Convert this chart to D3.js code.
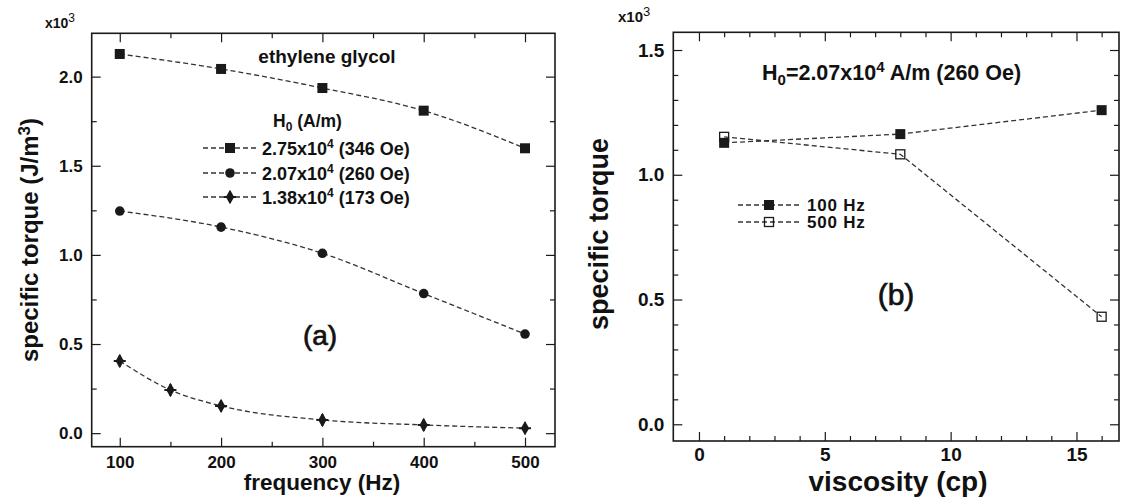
<!DOCTYPE html>
<html><head><meta charset="utf-8">
<script src="https://cdn.jsdelivr.net/npm/d3@7"></script>
<style>
body{margin:0;background:#fff}
svg{display:block}
text{font-family:"Liberation Sans",Arial,Helvetica,sans-serif;fill:#111}
</style>
</head><body>
<svg id="chart" width="1121" height="503"></svg>
<script>
// ---------- panel (a): specific torque vs. frequency, ethylene glycol ----------
const freqHigh = [100, 200, 300, 400, 500];
const torqueHigh = [2.127, 2.043, 1.936, 1.809, 1.598];      // H0 = 2.75x10^4 A/m
const freqMid = [100, 200, 300, 400, 500];
const torqueMid = [1.246, 1.156, 1.009, 0.783, 0.556];       // H0 = 2.07x10^4 A/m
const freqLow = [100, 150, 200, 300, 400, 500];
const torqueLow = [0.405, 0.242, 0.153, 0.074, 0.046, 0.028]; // H0 = 1.38x10^4 A/m
const fieldMantissa = ["2.75x10", "2.07x10", "1.38x10"];
const fieldOersted = [" (346 Oe)", " (260 Oe)", " (173 Oe)"];
const freqTicks = [100, 200, 300, 400, 500];
const torqueTicksA = [0.0, 0.5, 1.0, 1.5, 2.0];

// ---------- panel (b): specific torque vs. viscosity ----------
const viscosity = [1, 8, 16];
const torque100Hz = [1.128, 1.163, 1.259];
const torque500Hz = [1.152, 1.082, 0.431];
const freqLabels = ["100 Hz", "500 Hz"];
const viscTicks = [0, 5, 10, 15];
const torqueTicksB = [0.0, 0.5, 1.0, 1.5];

const svg = d3.select("#chart");
const ink = "#1a1a1a";
const fmt = d3.format(".1f");

// panel geometry
const A = {left: 91.7, right: 555, top: 33.3, bottom: 446.7};
const B = {left: 673.3, right: 1119, top: 32.3, bottom: 441};

const xA = d3.scaleLinear().domain([72.3, 529.6]).range([A.left, A.right]);
const yA = d3.scaleLinear().domain([-0.076, 2.243]).range([A.bottom, A.top]);
const xB = d3.scaleLinear().domain([-1.02, 16.69]).range([B.left, B.right]);
const yB = d3.scaleLinear().domain([-0.067, 1.571]).range([B.bottom, B.top]);

function frame(P, x, y, o) {
  const g = svg.append("g");
  const strip = s => s.select(".domain").remove();
  // minor ticks on all four sides
  g.append("g").attr("transform", `translate(0,${P.bottom})`)
    .call(d3.axisBottom(x).tickValues(o.xMinor).tickSize(-5).tickFormat("")).call(strip);
  g.append("g").attr("transform", `translate(0,${P.top})`)
    .call(d3.axisTop(x).tickValues(o.xMinor).tickSize(-5).tickFormat("")).call(strip);
  g.append("g").attr("transform", `translate(${P.left},0)`)
    .call(d3.axisLeft(y).tickValues(o.yMinor).tickSize(-5).tickFormat("")).call(strip);
  g.append("g").attr("transform", `translate(${P.right},0)`)
    .call(d3.axisRight(y).tickValues(o.yMinor).tickSize(-5).tickFormat("")).call(strip);
  // major ticks
  const xb = g.append("g").attr("transform", `translate(0,${P.bottom})`)
    .call(d3.axisBottom(x).tickValues(o.xMajor).tickSize(-9).tickPadding(o.xPad).tickFormat(o.xFmt)).call(strip);
  g.append("g").attr("transform", `translate(0,${P.top})`)
    .call(d3.axisTop(x).tickValues(o.xMajor).tickSize(-9).tickFormat("")).call(strip);
  const yl = g.append("g").attr("transform", `translate(${P.left},0)`)
    .call(d3.axisLeft(y).tickValues(o.yMajor).tickSize(-9).tickPadding(o.yPad).tickFormat(fmt)).call(strip);
  g.append("g").attr("transform", `translate(${P.right},0)`)
    .call(d3.axisRight(y).tickValues(o.yMajor).tickSize(-9).tickFormat("")).call(strip);
  g.selectAll(".tick line").attr("stroke", ink).attr("stroke-width", 1.2);
  [xb, yl].forEach(a => a.selectAll("text")
    .style("font-family", '"Liberation Sans",Arial,sans-serif')
    .style("font-weight", "bold").style("font-size", o.tickFont + "px").attr("fill", ink));
  g.append("rect").attr("x", P.left).attr("y", P.top)
    .attr("width", P.right - P.left).attr("height", P.bottom - P.top)
    .attr("fill", "none").attr("stroke", ink).attr("stroke-width", 1.6);
}

frame(A, xA, yA, {
  xMajor: freqTicks, xMinor: d3.range(150, 500, 100), xFmt: d3.format("d"),
  yMajor: torqueTicksA, yMinor: d3.range(0.25, 2.25, 0.5),
  xPad: 9, yPad: 9, tickFont: 17
});
frame(B, xB, yB, {
  xMajor: viscTicks, xMinor: d3.range(0, 17).filter(v => v % 5 !== 0), xFmt: d3.format("d"),
  yMajor: torqueTicksB, yMinor: d3.range(0, 1.55, 0.1).filter(v => Math.round(v * 10) % 5 !== 0),
  xPad: 7, yPad: 9, tickFont: 19
});

// dashed connecting lines
function curve(x, y, xs, ys, shape) {
  const line = d3.line().x((d, i) => x(xs[i])).y((d, i) => y(ys[i])).curve(shape);
  svg.append("path").attr("d", line(xs)).attr("fill", "none")
    .attr("stroke", "#333").attr("stroke-width", 1.3).attr("stroke-dasharray", "5,3");
}

// marker painters
const markers = {
  square: (g, cx, cy) => g.append("rect").attr("x", cx - 5).attr("y", cy - 5)
    .attr("width", 10).attr("height", 10).attr("fill", ink),
  circle: (g, cx, cy) => g.append("circle").attr("cx", cx).attr("cy", cy).attr("r", 4.8).attr("fill", ink),
  diamond: (g, cx, cy) => {
    g.append("path").attr("transform", `translate(${cx},${cy})`)
      .attr("d", d3.symbol(d3.symbolDiamond, 60)()).attr("fill", ink);
    g.append("path").attr("d", `M${cx - 6},${cy}H${cx + 6}M${cx},${cy - 6}V${cy + 6}`)
      .attr("stroke", ink).attr("stroke-width", 2);
  },
  open: (g, cx, cy) => g.append("rect").attr("x", cx - 4.5).attr("y", cy - 4.5)
    .attr("width", 9).attr("height", 9).attr("fill", "none").attr("stroke", ink).attr("stroke-width", 1.3)
};

function points(x, y, xs, ys, kind) {
  const g = svg.append("g");
  xs.forEach((v, i) => markers[kind](g, x(v), y(ys[i])));
}

curve(xA, yA, freqHigh, torqueHigh, d3.curveMonotoneX);
curve(xA, yA, freqMid, torqueMid, d3.curveMonotoneX);
curve(xA, yA, freqLow, torqueLow, d3.curveMonotoneX);
points(xA, yA, freqHigh, torqueHigh, "square");
points(xA, yA, freqMid, torqueMid, "circle");
points(xA, yA, freqLow, torqueLow, "diamond");

curve(xB, yB, viscosity, torque100Hz, d3.curveLinear);
curve(xB, yB, viscosity, torque500Hz, d3.curveLinear);
points(xB, yB, viscosity, torque100Hz, "square");
points(xB, yB, viscosity, torque500Hz, "open");

// legend helpers
function legendRow(x0, x1, xm, y, kind) {
  svg.append("path").attr("d", `M${x0},${y}H${x1}`).attr("stroke", "#333")
    .attr("stroke-width", 1.3).attr("stroke-dasharray", "5,3");
  markers[kind](svg.append("g"), xm, y);
}

// panel (a) annotations
svg.append("text").attr("x", 327).attr("y", 63).attr("text-anchor", "middle")
  .style("font-size", "19px").style("font-weight", "bold").text("ethylene glycol");
const hTitle = svg.append("text").attr("x", 273).attr("y", 127)
  .style("font-size", "17.5px").style("font-weight", "bold");
hTitle.append("tspan").text("H");
hTitle.append("tspan").attr("dy", 4).style("font-size", "12px").text("0");
hTitle.append("tspan").attr("dy", -4).text(" (A/m)");

const legendKinds = ["square", "circle", "diamond"];
const rowsA = [148, 173, 197];
rowsA.forEach((ry, i) => {
  legendRow(203, 259, 230, ry, legendKinds[i]);
  const t = svg.append("text").attr("x", 262).attr("y", ry + 6.5)
    .style("font-size", "18px").style("font-weight", "bold");
  t.append("tspan").text(fieldMantissa[i]);
  t.append("tspan").attr("dy", -7).style("font-size", "12px").text("4");
  t.append("tspan").attr("dy", 7).text(fieldOersted[i]);
});

svg.append("text").attr("x", 320).attr("y", 345).attr("text-anchor", "middle")
  .style("font-size", "28px").attr("stroke", "#111").attr("stroke-width", 0.7).text("(a)");

// panel (b) annotations
const hB = svg.append("text").attr("x", 762).attr("y", 80)
  .style("font-size", "21.5px").style("font-weight", "bold");
hB.append("tspan").text("H");
hB.append("tspan").attr("dy", 5).style("font-size", "15px").text("0");
hB.append("tspan").attr("dy", -5).text("=2.07x10");
hB.append("tspan").attr("dy", -8).style("font-size", "15px").text("4");
hB.append("tspan").attr("dy", 8).text(" A/m (260 Oe)");

const rowsB = [205, 222];
const kindsB = ["square", "open"];
rowsB.forEach((ry, i) => {
  legendRow(738, 800, 769, ry, kindsB[i]);
  svg.append("text").attr("x", 807).attr("y", ry + 6)
    .style("font-size", "17px").style("font-weight", "bold")
    .style("letter-spacing", "0.8px").text(freqLabels[i]);
});

svg.append("text").attr("x", 896).attr("y", 305).attr("text-anchor", "middle")
  .style("font-size", "30px").attr("stroke", "#111").attr("stroke-width", 0.7).text("(b)");

// multiplier labels
function mult(x, y, size) {
  const t = svg.append("text").attr("x", x).attr("y", y)
    .style("font-size", size + "px").style("font-weight", "bold");
  t.append("tspan").text("x10");
  t.append("tspan").attr("dy", -6).style("font-size", (size - 2) + "px").style("font-weight", "normal").text("3");
}
mult(45, 28, 14);
mult(618, 22, 15);

// axis titles
svg.append("text").attr("x", 322).attr("y", 490).attr("text-anchor", "middle")
  .style("font-size", "22.5px").style("font-weight", "bold").text("frequency (Hz)");
svg.append("text").attr("x", 898).attr("y", 491).attr("text-anchor", "middle")
  .style("font-size", "28px").style("font-weight", "bold").text("viscosity (cp)");

const yt = svg.append("text").attr("transform", "translate(38,240) rotate(-90)")
  .attr("text-anchor", "middle").style("font-size", "24px").style("font-weight", "bold");
yt.append("tspan").text("specific torque (J/m");
yt.append("tspan").attr("dy", -8).style("font-size", "17px").text("3");
yt.append("tspan").attr("dy", 8).text(")");

svg.append("text").attr("transform", "translate(608,234) rotate(-90)")
  .attr("text-anchor", "middle").style("font-size", "27px").style("font-weight", "bold")
  .text("specific torque");
</script>
</body></html>
